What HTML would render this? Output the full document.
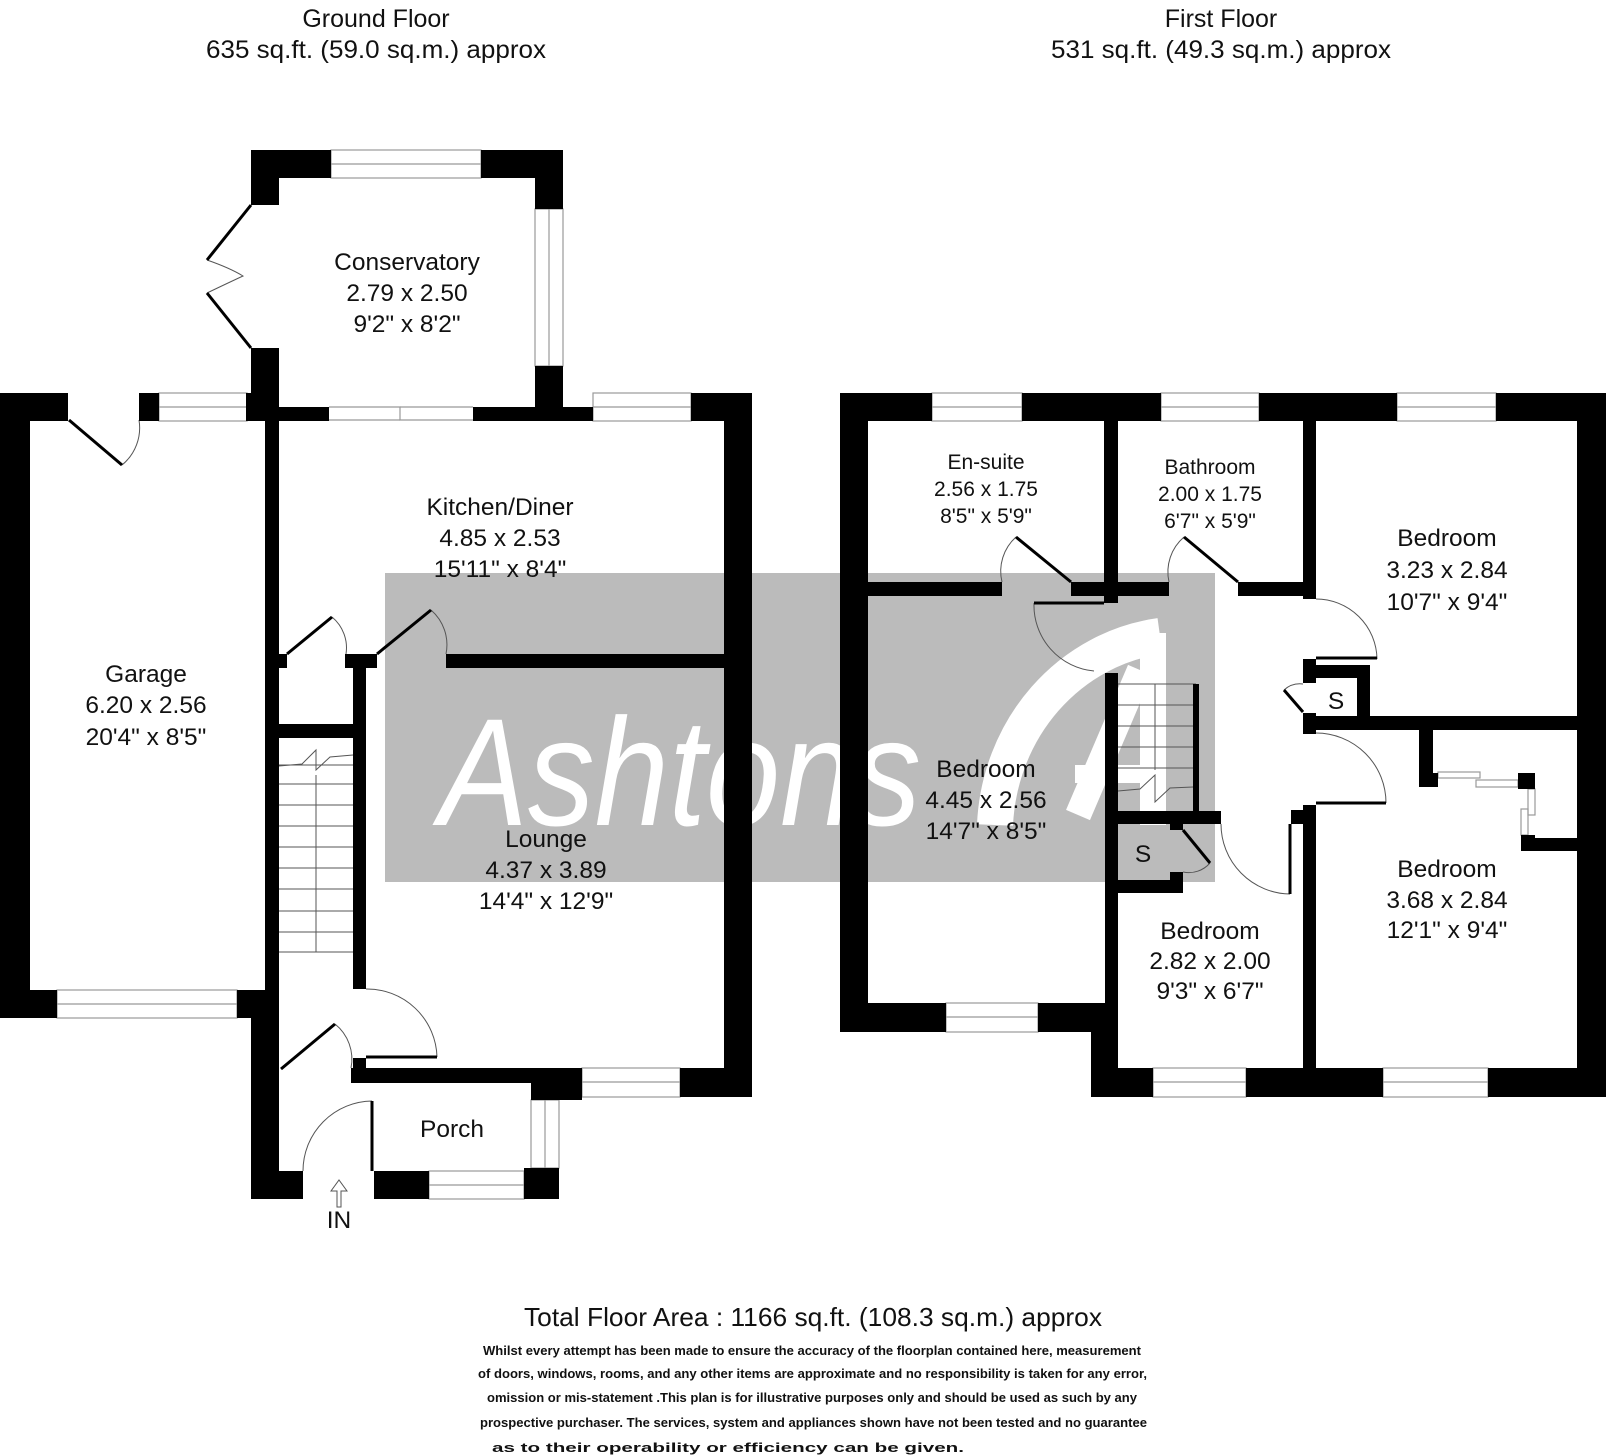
<!DOCTYPE html>
<html><head><meta charset="utf-8"><style>
html,body{margin:0;padding:0;background:#fff;}
svg{display:block;}
text{font-family:"Liberation Sans",Arial,sans-serif;fill:#111;}
</style></head><body>
<svg width="1608" height="1456" viewBox="0 0 1608 1456" xmlns="http://www.w3.org/2000/svg">
<rect x="385" y="573" width="830" height="309" fill="#bbbbbb"/>
<text x="439" y="825" font-size="153" font-style="italic" textLength="482" lengthAdjust="spacingAndGlyphs" style="fill:#fff">Ashtons</text>
<path d="M 995 825 A 190 200 0 0 1 1160 636" stroke="#fff" stroke-width="36" fill="none"/>
<rect x="1140" y="633" width="26" height="192" fill="#fff"/>
<path d="M1140 670 L1078 815" stroke="#fff" stroke-width="26"/>
<rect x="1075" y="765" width="70" height="18" fill="#fff"/>

<g fill="none" stroke="#999" stroke-width="1.2">
<rect x="331" y="150" width="150" height="28"/><line x1="331" y1="164" x2="481" y2="164"/>
<rect x="535" y="209" width="28" height="157"/><line x1="549" y1="209" x2="549" y2="366"/>
<rect x="159" y="393" width="88" height="28"/><line x1="159" y1="407" x2="247" y2="407"/>
<rect x="593" y="393" width="98" height="28"/><line x1="593" y1="407" x2="691" y2="407"/>
<rect x="57" y="990" width="180" height="28"/><line x1="57" y1="1004" x2="237" y2="1004"/>
<rect x="582" y="1068" width="98" height="29"/><line x1="582" y1="1082" x2="680" y2="1082"/>
<rect x="429" y="1171" width="95" height="28"/><line x1="429" y1="1185" x2="524" y2="1185"/>
<rect x="531" y="1100" width="28" height="68"/><line x1="545" y1="1100" x2="545" y2="1168"/>
<path d="M329 407 H400 V420 H473"/><path d="M329 420 H400 M400 407 H473"/>
<rect x="932" y="393" width="90" height="28"/><line x1="932" y1="407" x2="1022" y2="407"/>
<rect x="1161" y="393" width="98" height="28"/><line x1="1161" y1="407" x2="1259" y2="407"/>
<rect x="1397" y="393" width="99" height="28"/><line x1="1397" y1="407" x2="1496" y2="407"/>
<rect x="946" y="1003" width="92" height="29"/><line x1="946" y1="1017" x2="1038" y2="1017"/>
<rect x="1153" y="1068" width="93" height="29"/><line x1="1153" y1="1082" x2="1246" y2="1082"/>
<rect x="1383" y="1068" width="105" height="29"/><line x1="1383" y1="1082" x2="1488" y2="1082"/>
<rect x="1438" y="772" width="42" height="6"/><rect x="1476" y="780" width="42" height="7"/>
<rect x="1528" y="789" width="7" height="26"/><rect x="1521" y="809" width="7" height="26"/>
</g>

<g stroke="#555" stroke-width="1" fill="none">
<line x1="279" y1="765" x2="353" y2="765"/><line x1="279" y1="784" x2="353" y2="784"/>
<line x1="279" y1="805" x2="353" y2="805"/><line x1="279" y1="826" x2="353" y2="826"/>
<line x1="279" y1="847" x2="353" y2="847"/><line x1="279" y1="868" x2="353" y2="868"/>
<line x1="279" y1="889" x2="353" y2="889"/><line x1="279" y1="911" x2="353" y2="911"/>
<line x1="279" y1="932" x2="353" y2="932"/><line x1="279" y1="952" x2="353" y2="952"/>
<line x1="316" y1="775" x2="316" y2="952"/>
<path d="M279 766 L302 764 L316 750 L316 770 L330 757 L353 755"/>
<line x1="1118" y1="684" x2="1196" y2="684"/><line x1="1118" y1="705" x2="1196" y2="705"/>
<line x1="1118" y1="726" x2="1196" y2="726"/><line x1="1118" y1="747" x2="1196" y2="747"/>
<line x1="1118" y1="768" x2="1196" y2="768"/>
<line x1="1155" y1="684" x2="1155" y2="770"/>
<path d="M1118 791 L1140 789 L1155 775 L1155 802 L1170 788 L1193 787"/>
<path d="M122 465 A48 48 0 0 0 139 420"/>
<path d="M332 617 A40 40 0 0 1 346 654"/>
<path d="M431 610 A46 46 0 0 1 446 654"/>
<path d="M366 989 A70 70 0 0 1 437 1057"/>
<path d="M335 1024 A45 45 0 0 1 351 1068"/>
<path d="M303 1171 A70 70 0 0 1 372 1101"/>
<path d="M207 260 Q230 268 243 276 Q230 282 207 293"/>
<path d="M1016 537 A46 46 0 0 0 1002 582"/>
<path d="M1184 537 A46 46 0 0 0 1169 582"/>
<path d="M1034 603 A66 66 0 0 0 1094 671"/>
<path d="M1316 599 A61 61 0 0 1 1377 659"/>
<path d="M1284 690 A24 24 0 0 1 1303 684"/>
<path d="M1316 733 A70 70 0 0 1 1386 803"/>
<path d="M1221 824 A70 70 0 0 0 1290 894"/>
<path d="M1210 863 A28 28 0 0 1 1183 872"/>
</g>
<g stroke="#000" stroke-width="3" fill="none">
<line x1="69" y1="420" x2="122" y2="465"/>
<line x1="287" y1="654" x2="332" y2="617"/>
<line x1="377" y1="654" x2="431" y2="610"/>
<line x1="366" y1="1057" x2="437" y2="1057"/>
<line x1="281" y1="1069" x2="335" y2="1024"/>
<line x1="372" y1="1101" x2="372" y2="1171"/>
<line x1="251" y1="205" x2="207" y2="260"/>
<line x1="207" y1="293" x2="251" y2="348"/>
<line x1="1071" y1="582" x2="1016" y2="537"/>
<line x1="1238" y1="582" x2="1184" y2="537"/>
<line x1="1034" y1="603" x2="1104" y2="603"/>
<line x1="1316" y1="658" x2="1377" y2="658"/>
<line x1="1284" y1="690" x2="1303" y2="712"/>
<line x1="1316" y1="803" x2="1386" y2="803"/>
<line x1="1290" y1="824" x2="1290" y2="894"/>
<line x1="1183" y1="830" x2="1210" y2="863"/>
</g>

<g fill="#000">
<rect x="251" y="150" width="80" height="28"/><rect x="251" y="150" width="28" height="55"/>
<rect x="481" y="150" width="82" height="28"/><rect x="535" y="150" width="28" height="59"/>
<rect x="535" y="366" width="28" height="54"/><rect x="473" y="407" width="120" height="14"/>
<rect x="251" y="348" width="28" height="73"/><rect x="246" y="393" width="33" height="28"/>
<rect x="279" y="407" width="50" height="14"/>
<rect x="0" y="393" width="68" height="28"/><rect x="0" y="393" width="30" height="625"/>
<rect x="139" y="393" width="20" height="28"/>
<rect x="265" y="421" width="14" height="570"/><rect x="265" y="654" width="22" height="14"/>
<rect x="0" y="990" width="57" height="28"/><rect x="237" y="990" width="42" height="28"/>
<rect x="251" y="990" width="28" height="209"/><rect x="251" y="1171" width="52" height="28"/>
<rect x="691" y="393" width="61" height="28"/><rect x="724" y="393" width="28" height="704"/>
<rect x="345" y="654" width="32" height="14"/><rect x="353" y="668" width="13" height="321"/>
<rect x="446" y="654" width="278" height="14"/>
<rect x="279" y="724" width="74" height="14"/>
<rect x="353" y="1058" width="13" height="10"/><rect x="351" y="1068" width="231" height="15"/>
<rect x="531" y="1068" width="51" height="32"/><rect x="680" y="1068" width="72" height="29"/>
<rect x="374" y="1171" width="55" height="28"/><rect x="524" y="1168" width="35" height="31"/>
<rect x="531" y="1083" width="28" height="17"/>
<rect x="840" y="393" width="92" height="28"/><rect x="1022" y="393" width="139" height="28"/>
<rect x="1259" y="393" width="138" height="28"/><rect x="1496" y="393" width="110" height="28"/>
<rect x="1577" y="393" width="29" height="704"/><rect x="840" y="393" width="28" height="639"/>
<rect x="1104" y="421" width="14" height="182"/><rect x="1303" y="421" width="13" height="178"/>
<rect x="868" y="582" width="134" height="14"/><rect x="1071" y="582" width="33" height="14"/>
<rect x="1104" y="582" width="65" height="14"/><rect x="1238" y="582" width="65" height="14"/>
<rect x="1303" y="659" width="13" height="24"/><rect x="1316" y="665" width="54" height="13"/>
<rect x="1357" y="665" width="13" height="52"/><rect x="1303" y="713" width="13" height="21"/>
<rect x="1303" y="716" width="274" height="14"/>
<rect x="1419" y="730" width="14" height="57"/><rect x="1419" y="773" width="19" height="14"/>
<rect x="1518" y="773" width="17" height="16"/><rect x="1521" y="835" width="14" height="16"/>
<rect x="1535" y="838" width="42" height="13"/>
<rect x="1105" y="673" width="13" height="330"/><rect x="1193" y="684" width="6" height="127"/>
<rect x="1105" y="811" width="116" height="13"/>
<rect x="1170" y="824" width="13" height="6"/><rect x="1170" y="872" width="13" height="8"/>
<rect x="1105" y="880" width="78" height="13"/>
<rect x="1303" y="805" width="13" height="263"/><rect x="1291" y="810" width="12" height="14"/>
<rect x="840" y="1003" width="106" height="29"/><rect x="1038" y="1003" width="80" height="29"/>
<rect x="1091" y="1003" width="27" height="94"/>
<rect x="1091" y="1068" width="62" height="29"/><rect x="1246" y="1068" width="137" height="29"/>
<rect x="1488" y="1068" width="118" height="29"/>
</g>

<path d="M337 1207 V1191 H331 L339 1180 L347 1191 H341 V1207 Z" stroke="#555" stroke-width="1" fill="#fff"/>

<g text-anchor="middle" font-size="25">
<text x="376" y="27">Ground Floor</text>
<text x="376" y="58" textLength="340" lengthAdjust="spacingAndGlyphs">635 sq.ft. (59.0 sq.m.) approx</text>
<text x="1221" y="27">First Floor</text>
<text x="1221" y="58" textLength="340" lengthAdjust="spacingAndGlyphs">531 sq.ft. (49.3 sq.m.) approx</text>
</g>
<g text-anchor="middle" font-size="24.5">
<text x="407" y="270">Conservatory</text><text x="407" y="301">2.79 x 2.50</text><text x="407" y="332">9'2" x 8'2"</text>
<text x="500" y="515">Kitchen/Diner</text><text x="500" y="546">4.85 x 2.53</text><text x="500" y="577">15'11" x 8'4"</text>
<text x="146" y="682">Garage</text><text x="146" y="713">6.20 x 2.56</text><text x="146" y="745">20'4" x 8'5"</text>
<text x="546" y="847">Lounge</text><text x="546" y="878">4.37 x 3.89</text><text x="546" y="909">14'4" x 12'9"</text>
<text x="452" y="1137">Porch</text>
<text x="339" y="1228">IN</text>
<text x="986" y="777">Bedroom</text><text x="986" y="808">4.45 x 2.56</text><text x="986" y="839">14'7" x 8'5"</text>
<text x="1210" y="939">Bedroom</text><text x="1210" y="969">2.82 x 2.00</text><text x="1210" y="999">9'3" x 6'7"</text>
<text x="1447" y="877">Bedroom</text><text x="1447" y="908">3.68 x 2.84</text><text x="1447" y="938">12'1" x 9'4"</text>
<text x="1447" y="546">Bedroom</text><text x="1447" y="578">3.23 x 2.84</text><text x="1447" y="610">10'7" x 9'4"</text>
<text x="1336" y="709">S</text><text x="1143" y="862">S</text>
</g>
<g text-anchor="middle" font-size="21">
<text x="986" y="469">En-suite</text><text x="986" y="496">2.56 x 1.75</text><text x="986" y="523">8'5" x 5'9"</text>
<text x="1210" y="474">Bathroom</text><text x="1210" y="501">2.00 x 1.75</text><text x="1210" y="528">6'7" x 5'9"</text>
</g>
<text x="524" y="1326" font-size="26" textLength="578" lengthAdjust="spacingAndGlyphs">Total Floor Area : 1166 sq.ft. (108.3 sq.m.) approx</text>
<g font-size="13" font-weight="bold">
<text x="483" y="1355" textLength="658" lengthAdjust="spacingAndGlyphs">Whilst every attempt has been made to ensure the accuracy of the floorplan contained here, measurement</text>
<text x="478" y="1378" textLength="669" lengthAdjust="spacingAndGlyphs">of doors, windows, rooms, and any other items are approximate and no responsibility is taken for any error,</text>
<text x="487" y="1402" textLength="650" lengthAdjust="spacingAndGlyphs">omission or mis-statement .This plan is for illustrative purposes only and should be used as such by any</text>
<text x="480" y="1427" textLength="667" lengthAdjust="spacingAndGlyphs">prospective purchaser. The services, system and appliances shown have not been tested and no guarantee</text>
<text x="492" y="1452" textLength="472" lengthAdjust="spacingAndGlyphs">as to their operability or efficiency can be given.</text>
</g>
</svg>
</body></html>
